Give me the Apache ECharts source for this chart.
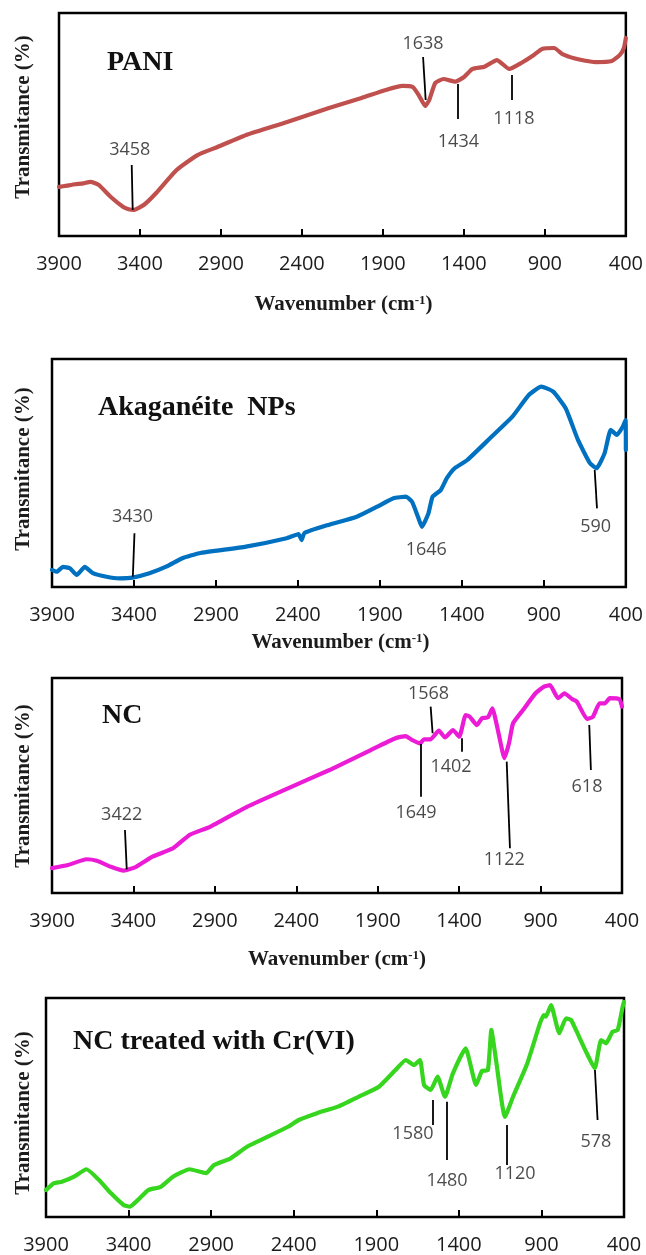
<!DOCTYPE html>
<html><head><meta charset="utf-8">
<script src="https://cdn.jsdelivr.net/npm/echarts@6/dist/echarts.min.js"></script>
<style>html,body{margin:0;padding:0;background:#fff}#c{width:646px;height:1255px}</style>
</head><body><div id="c"></div>
<script>
// ---------- DATA ----------
const TICK_LABELS = [3900, 3400, 2900, 2400, 1900, 1400, 900, 400];
const PANEL_NAMES = ['PANI', 'Akaganéite  NPs', 'NC', 'NC treated with Cr(VI)'];
const Y_TITLE = 'Transmitance (%)';

// PANI (wavenumber, relative transmittance 0-100 of the frame)
const PANI_WN = [3900,3850,3800,3750,3706,3655,3580,3503,3470,3439,3377,3300,3174,3045,2922,2744,2491,2233,2032,1882,1778,1716,1679,1639,1614,1577,1526,1452,1399,1347,1274,1196,1120,1046,968,917,843,791,714,650,588,486,437,412,400];
const PANI_T  = [22.0,22.6,23.2,23.6,24.3,22.9,17.5,13.0,12.0,11.7,13.9,19.3,29.6,36.3,39.9,45.3,51.1,57.4,61.9,65.5,67.3,66.8,63.2,58.3,61.0,68.6,70.4,69.2,71.3,74.9,75.9,78.9,74.9,77.6,81.2,83.9,84.3,81.6,79.6,78.6,78.0,78.5,81.2,84.3,88.8];
const PANI_PEAKS = ['3458', '1638', '1434', '1118'];
const PANI_LEADERS = [[3445,11.7,3451,31.8],[1636,61.0,1652,80.3],[1440,68.2,1440,52.5],[1103,72.2,1103,61.0]];
const PANI_LABEL_AT = [[3463,38.6],[1652,86.1],[1434,42.2],[1091,52.5]];

// Akaganeite NPs
const AKA_WN = [3900,3871,3833,3791,3750,3700,3651,3568,3488,3409,3306,3204,3105,3002,2717,2469,2396,2378,2360,2216,2041,1917,1817,1741,1704,1668,1644,1604,1579,1529,1492,1444,1367,1219,1092,992,916,843,767,692,619,579,530,492,455,419,402,400];
const AKA_T  = [7.5,6.7,8.8,8.2,5.3,8.8,6.1,4.5,3.8,4.1,6.0,8.9,12.6,14.8,17.7,21.4,23.2,20.6,23.7,27.2,30.8,35.2,38.9,39.6,37.4,30.8,26.4,32.3,39.6,42.5,47.7,52.1,55.7,65.9,74.7,84.2,87.9,85.7,78.4,64.5,54.3,52.1,58.6,68.9,66.7,70.3,73.2,60.1];
const AKA_PEAKS = ['3430', '1646', '590'];
const AKA_LEADERS = [[3407,4.5,3397,23.6], null, [590,51.3,576,34.5]];
const AKA_LABEL_AT = [[3409,30.8],[1617,16.2],[584,26.4]];

// NC
const NC_WN = [3900,3802,3688,3625,3538,3460,3384,3283,3157,3056,2930,2703,2451,2196,1943,1791,1728,1690,1640,1616,1575,1525,1487,1438,1399,1360,1335,1291,1260,1223,1196,1158,1122,1094,1069,1008,931,879,842,793,753,707,677,614,578,538,505,475,416,400];
const NC_T  = [11.6,13.0,15.7,15.0,12.2,10.4,12.2,16.9,20.8,27.0,30.8,40.1,48.7,57.2,66.5,72.0,73.0,71.2,69.6,71.5,71.5,75.5,72.4,75.8,72.7,82.8,82.0,78.1,81.3,81.7,85.9,74.3,62.7,69.6,78.9,85.1,92.9,96.0,96.7,90.6,92.9,90.2,89.0,80.9,82.0,88.2,88.2,90.6,90.1,86.7];
const NC_PEAKS = ['3422', '1568', '1649', '1402', '1122', '618'];
const NC_LEADERS = [[3441,11.0,3452,29.3],[1563,74.3,1575,86.7],[1634,69.3,1634,44.8],[1385,72.0,1385,65.7],[1108,61.1,1088,20.8],[601,78.1,591,57.2]];
const NC_LABEL_AT = [[3472,36.3],[1588,92.6],[1665,37.4],[1450,58.7],[1123,15.3],[615,49.4]];

// NC treated with Cr(VI)
const CR_WN = [3900,3854,3804,3730,3655,3579,3506,3430,3393,3343,3281,3205,3131,3031,2931,2883,2782,2683,2557,2435,2370,2259,2133,2008,1884,1784,1721,1672,1635,1611,1571,1529,1484,1436,1359,1296,1260,1224,1203,1175,1121,1072,987,909,885,873,842,792,751,721,691,630,577,539,509,469,438,408,400];
const CR_T  = [12.3,15.4,16.1,18.4,21.8,16.9,10.8,5.5,4.7,7.8,12.3,13.8,18.4,21.8,20.0,23.7,26.8,32.1,36.7,41.2,44.3,47.4,50.4,54.9,59.5,67.1,71.7,69.4,71.7,60.3,58.0,64.1,54.9,65.6,77.0,60.3,66.7,67.1,85.4,71.7,45.7,54.9,69.9,88.4,92.2,91.5,96.8,83.9,90.7,90.0,85.4,75.5,67.9,80.8,79.3,84.6,85.4,96.0,98.2];
const CR_PEAKS = ['1580', '1480', '1120', '578'];
const CR_LEADERS = [[1559,53.4,1559,42.0],[1472,52.6,1472,26.0],[1110,42.0,1110,23.7],[576,67.1,560,44.3]];
const CR_LABEL_AT = [[1678,37.9],[1472,16.4],[1060,19.6],[570,34.4]];

// ---------- LAYOUT / STYLE ----------
const PANELS = [
  {wn: PANI_WN, t: PANI_T, peaks: PANI_PEAKS, leaders: PANI_LEADERS, at: PANI_LABEL_AT, color: '#C0504D',
   grid: {left: 59, right: 18, top: 13, height: 223}, yTitleY: 117, titleX: 107, titleY: 63, xTitleY: 305},
  {wn: AKA_WN, t: AKA_T, peaks: AKA_PEAKS, leaders: AKA_LEADERS, at: AKA_LABEL_AT, color: '#0070C0',
   grid: {left: 52, right: 17, top: 359, height: 228}, yTitleY: 469, titleX: 98, titleY: 408, xTitleY: 643},
  {wn: NC_WN, t: NC_T, peaks: NC_PEAKS, leaders: NC_LEADERS, at: NC_LABEL_AT, color: '#EC1BD6',
   grid: {left: 52, right: 24, top: 678, height: 215}, yTitleY: 786, titleX: 102, titleY: 716, xTitleY: 960},
  {wn: CR_WN, t: CR_T, peaks: CR_PEAKS, leaders: CR_LEADERS, at: CR_LABEL_AT, color: '#36D51E',
   grid: {left: 46, right: 22, top: 998, height: 219}, yTitleY: 1113, titleX: 73, titleY: 1042, xTitleY: null}
];

const SERIF = 'Liberation Serif, Times New Roman, serif';
const SANS = 'Open Sans, Noto Sans, sans-serif';

const grids = [], xAxes = [], yAxes = [], series = [], graphics = [];
PANELS.forEach((p, i) => {
  grids.push(Object.assign({show: true, borderColor: '#000', borderWidth: 2.5, containLabel: false}, p.grid));
  xAxes.push({
    type: 'value', gridIndex: i, min: 400, max: 3900, inverse: true,
    axisLine: {show: false}, splitLine: {show: false},
    axisTick: {show: true, inside: true, length: 7, lineStyle: {color: '#000', width: 2}, customValues: TICK_LABELS},
    axisLabel: {customValues: TICK_LABELS, margin: 18, color: '#1c1c1c', fontSize: 20, fontFamily: SANS,
                formatter: v => String(v)}
  });
  yAxes.push({type: 'value', gridIndex: i, min: 0, max: 100, show: false});
  series.push({
    type: 'line', xAxisIndex: i, yAxisIndex: i, showSymbol: false, symbol: 'none', smooth: 0.15,
    lineStyle: {color: p.color, width: 4.2, cap: 'round', join: 'round'},
    data: p.wn.map((w, k) => [w, p.t[k]]), z: 3, silent: true
  });
  series.push({
    type: 'lines', coordinateSystem: 'cartesian2d', xAxisIndex: i, yAxisIndex: i, silent: true,
    lineStyle: {color: '#000', width: 1.8, opacity: 1, curveness: 0},
    data: p.leaders.filter(l => l).map(l => ({coords: [[l[0], l[1]], [l[2], l[3]]]})), z: 4
  });
  series.push({
    type: 'scatter', xAxisIndex: i, yAxisIndex: i, symbolSize: 1, silent: true,
    itemStyle: {color: 'rgba(0,0,0,0)'},
    label: {show: true, position: 'inside', formatter: '{b}', fontSize: 18, color: '#1c1c1c', fontFamily: SANS},
    data: p.at.map((a, k) => ({value: a, name: p.peaks[k]})), z: 5
  });
  graphics.push({
    type: 'text', x: 24, y: p.yTitleY, rotation: Math.PI / 2,
    style: {text: Y_TITLE, font: 'bold 21px ' + SERIF, fill: '#1c1c1c', align: 'center', verticalAlign: 'middle'}
  });
  graphics.push({
    type: 'text', x: p.titleX, y: p.titleY,
    style: {text: PANEL_NAMES[i], font: 'bold 28px ' + SERIF, fill: '#111', align: 'left', verticalAlign: 'middle'}
  });
  if (p.xTitleY !== null) {
    graphics.push({
      type: 'text', x: p.grid.left + (646 - p.grid.left - p.grid.right) / 2, y: p.xTitleY,
      style: {
        text: 'Wavenumber (cm{sup|-1})', font: 'bold 21px ' + SERIF, fill: '#1c1c1c', align: 'center', verticalAlign: 'middle',
        rich: {sup: {fontSize: 13, fontWeight: 'bold', fontFamily: SERIF, verticalAlign: 'top', fill: '#1c1c1c'}}
      }
    });
  }
});

const chart = echarts.init(document.getElementById('c'), null, {renderer: 'canvas'});
chart.setOption({
  animation: false,
  backgroundColor: '#fff',
  grid: grids, xAxis: xAxes, yAxis: yAxes, series: series, graphic: graphics
});
</script></body></html>
